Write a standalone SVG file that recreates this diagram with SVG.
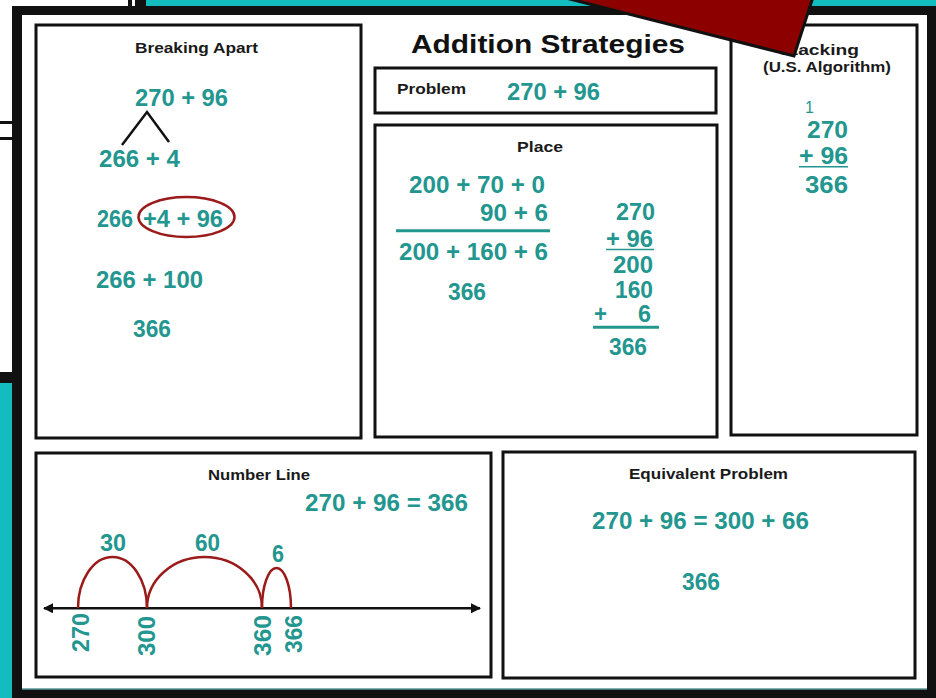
<svg xmlns="http://www.w3.org/2000/svg" width="936" height="698" viewBox="0 0 936 698">
<defs>
<style>
.panel{fill:#fff;stroke:#111;stroke-width:3}
.ttl{font-family:"Liberation Sans",Arial,sans-serif;font-weight:bold;font-size:14px;fill:#1a1a1a}
.num{font-family:"Liberation Sans",Arial,sans-serif;font-weight:bold;font-size:23px;fill:#22968f}
.tl{stroke:#22968f;fill:none}
.arc{stroke:#9b1b1b;stroke-width:2.5;fill:none}
</style>
<marker id="ah" viewBox="0 0 10 10" refX="9" refY="5" markerWidth="4" markerHeight="4" orient="auto-start-reverse">
<path d="M0,0 L10,5 L0,10 z" fill="#111"/>
</marker>
</defs>

<!-- background -->
<rect x="0" y="0" width="936" height="698" fill="#fff"/>
<rect x="146" y="0" width="790" height="12" fill="#12bcbf"/>
<rect x="128" y="0" width="4" height="12" fill="#111"/>
<rect x="135" y="0" width="11" height="12" fill="#111"/>
<rect x="0" y="121" width="14" height="3" fill="#111"/>
<rect x="0" y="137" width="14" height="3" fill="#111"/>
<rect x="0" y="372" width="14" height="11" fill="#111"/>
<rect x="0" y="383" width="14" height="315" fill="#12bcbf"/>

<!-- card -->
<rect x="12" y="6" width="930" height="700" fill="#111"/>
<rect x="22" y="15" width="905" height="674" fill="#fff"/>
<line x1="22" y1="689" x2="927" y2="689" stroke="#5a9896" stroke-width="1.5"/>

<text x="411" y="53" font-family="'Liberation Sans',Arial,sans-serif" font-weight="bold" font-size="26" fill="#111" textLength="274" lengthAdjust="spacingAndGlyphs">Addition Strategies</text>

<g id="breaking-apart">
<rect class="panel" x="36" y="25" width="325" height="413"/>
<text class="ttl" x="135" y="53" textLength="123" lengthAdjust="spacingAndGlyphs">Breaking Apart</text>
<text class="num" x="135" y="106" textLength="93" lengthAdjust="spacingAndGlyphs">270 + 96</text>
<path d="M122,145 L147,112 L169,142" stroke="#111" stroke-width="2.5" fill="none"/>
<text class="num" x="99" y="167" textLength="81" lengthAdjust="spacingAndGlyphs">266 + 4</text>
<text class="num" x="97" y="227" textLength="36" lengthAdjust="spacingAndGlyphs">266</text>
<text class="num" x="143" y="227" textLength="80" lengthAdjust="spacingAndGlyphs">+4 + 96</text>
<ellipse cx="186.5" cy="217" rx="48" ry="20" fill="none" stroke="#9b1b1b" stroke-width="2.5"/>
<text class="num" x="96" y="288" textLength="107" lengthAdjust="spacingAndGlyphs">266 + 100</text>
<text class="num" x="133" y="337" textLength="38" lengthAdjust="spacingAndGlyphs">366</text>
</g>

<g id="problem">
<rect class="panel" x="375" y="68" width="341" height="45"/>
<text class="ttl" x="397" y="94" textLength="69" lengthAdjust="spacingAndGlyphs">Problem</text>
<text class="num" x="507" y="100" textLength="93" lengthAdjust="spacingAndGlyphs">270 + 96</text>
</g>

<g id="place">
<rect class="panel" x="375" y="125" width="342" height="312"/>
<text class="ttl" x="517" y="152" textLength="46" lengthAdjust="spacingAndGlyphs">Place</text>
<text class="num" x="409" y="193" textLength="136" lengthAdjust="spacingAndGlyphs">200 + 70 + 0</text>
<text class="num" x="480" y="221" textLength="68" lengthAdjust="spacingAndGlyphs">90 + 6</text>
<line class="tl" x1="396" y1="230.7" x2="550" y2="230.7" stroke-width="3"/>
<text class="num" x="399" y="260" textLength="149" lengthAdjust="spacingAndGlyphs">200 + 160 + 6</text>
<text class="num" x="448" y="300" textLength="38" lengthAdjust="spacingAndGlyphs">366</text>
<text class="num" x="616" y="220" textLength="39" lengthAdjust="spacingAndGlyphs">270</text>
<text class="num" x="606" y="247" textLength="47" lengthAdjust="spacingAndGlyphs">+ 96</text>
<line class="tl" x1="606" y1="249.5" x2="654" y2="249.5" stroke-width="1.5"/>
<text class="num" x="613" y="273" textLength="40" lengthAdjust="spacingAndGlyphs">200</text>
<text class="num" x="615" y="298" textLength="38" lengthAdjust="spacingAndGlyphs">160</text>
<text class="num" x="594" y="322" textLength="13" lengthAdjust="spacingAndGlyphs">+</text>
<text class="num" x="638" y="322" textLength="13" lengthAdjust="spacingAndGlyphs">6</text>
<line class="tl" x1="593" y1="327.3" x2="659" y2="327.3" stroke-width="3"/>
<text class="num" x="609" y="355" textLength="38" lengthAdjust="spacingAndGlyphs">366</text>
</g>

<g id="stacking">
<rect class="panel" x="731" y="25" width="186" height="410"/>
<text class="ttl" x="779" y="55" textLength="80" lengthAdjust="spacingAndGlyphs">Stacking</text>
<text class="ttl" x="763" y="72" textLength="128" lengthAdjust="spacingAndGlyphs">(U.S. Algorithm)</text>
<text x="805" y="113" font-family="'Liberation Sans',Arial,sans-serif" font-size="16" fill="#22968f">1</text>
<text class="num" x="807" y="138" textLength="41" lengthAdjust="spacingAndGlyphs">270</text>
<text class="num" x="799" y="164" textLength="49" lengthAdjust="spacingAndGlyphs">+ 96</text>
<line class="tl" x1="799" y1="166.7" x2="848" y2="166.7" stroke-width="1.5"/>
<text class="num" x="805" y="193" textLength="43" lengthAdjust="spacingAndGlyphs">366</text>
</g>

<g id="number-line">
<rect class="panel" x="36" y="453" width="455" height="224"/>
<text class="ttl" x="208" y="480" textLength="102" lengthAdjust="spacingAndGlyphs">Number Line</text>
<text class="num" x="305" y="511" textLength="163" lengthAdjust="spacingAndGlyphs">270 + 96 = 366</text>
<text class="num" x="100" y="551" textLength="26" lengthAdjust="spacingAndGlyphs">30</text>
<text class="num" x="195" y="551" textLength="25" lengthAdjust="spacingAndGlyphs">60</text>
<text class="num" x="272" y="562" textLength="12" lengthAdjust="spacingAndGlyphs">6</text>
<text class="num" text-anchor="end" transform="translate(89,613) rotate(-90)" textLength="39" lengthAdjust="spacingAndGlyphs">270</text>
<text class="num" text-anchor="end" transform="translate(155,616) rotate(-90)" textLength="40" lengthAdjust="spacingAndGlyphs">300</text>
<text class="num" text-anchor="end" transform="translate(271,615) rotate(-90)" textLength="41" lengthAdjust="spacingAndGlyphs">360</text>
<text class="num" text-anchor="end" transform="translate(302,615) rotate(-90)" textLength="38" lengthAdjust="spacingAndGlyphs">366</text>
</g>

<g id="equivalent-problem">
<rect class="panel" x="503" y="452" width="412" height="226"/>
<text class="ttl" x="629" y="479" textLength="159" lengthAdjust="spacingAndGlyphs">Equivalent Problem</text>
<text class="num" x="592" y="529" textLength="217" lengthAdjust="spacingAndGlyphs">270 + 96 = 300 + 66</text>
<text class="num" x="682" y="590" textLength="38" lengthAdjust="spacingAndGlyphs">366</text>
</g>

<g id="connectors">
<line x1="44" y1="608.3" x2="480" y2="608.3" stroke="#111" stroke-width="2.5" marker-start="url(#ah)" marker-end="url(#ah)"/>
<path class="arc" d="M78,608 A34.5,51 0 0 1 147,608"/>
<path class="arc" d="M147,608 A57.5,51 0 0 1 262,608"/>
<path class="arc" d="M262,608 A14.5,40 0 0 1 291,608"/>
</g>

<!-- red arrow tip -->
<polygon points="550,-6 794,56 814,-6" fill="#8c0000" stroke="#111" stroke-width="3" stroke-linejoin="miter"/>
</svg>
